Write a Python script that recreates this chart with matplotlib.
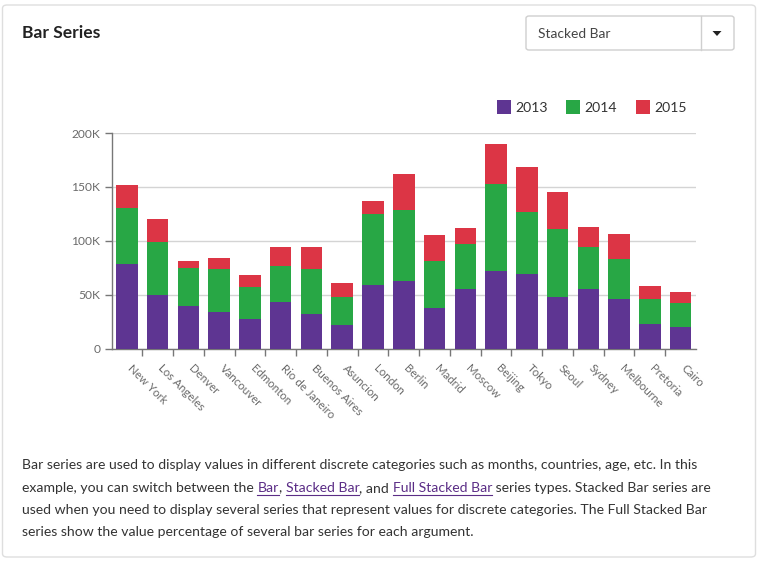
import matplotlib
matplotlib.use("Agg")
import matplotlib.pyplot as plt
from matplotlib.patches import FancyBboxPatch, Rectangle, Polygon
from matplotlib.lines import Line2D
from matplotlib.ticker import FuncFormatter, FixedLocator
from matplotlib.transforms import ScaledTranslation
import numpy as np

cities = ["New York", "Los Angeles", "Denver", "Vancouver", "Edmonton", "Rio de Janeiro",
          "Buenos Aires", "Asuncion", "London", "Berlin", "Madrid", "Moscow", "Beijing",
          "Tokyo", "Seoul", "Sydney", "Melbourne", "Pretoria", "Cairo"]
s2013 = [78, 50, 39, 34, 27, 43, 32, 22, 59, 63, 38, 55, 72, 69, 48, 55, 46, 23, 20]
s2014 = [52, 49, 36, 40, 30, 34, 42, 26, 66, 66, 43, 42, 81, 58, 63, 39, 37, 23, 22]
s2015 = [22, 21, 6, 10, 11, 17, 20, 13, 12, 33, 24, 15, 37, 41, 34, 19, 23, 12, 10]
years = ["2013", "2014", "2015"]
colors = ["#5e3592", "#28a745", "#dc3545"]
yticks = [0, 50, 100, 150, 200]

W, H = 760, 562
fig = plt.figure(figsize=(W / 100, H / 100), dpi=100)
FONT = ["Lato", "DejaVu Sans"]
plt.rcParams["font.family"] = FONT


def fx(x):
    return x / W


def fy(y):
    return 1 - y / H


def pt(px):
    return px * 72 / 100


# card
card = FancyBboxPatch((fx(2.5), fy(557)), fx(753), (555 - 3) / H,
                      boxstyle="round,pad=0,rounding_size=0.006",
                      transform=fig.transFigure, fc="white", ec="#dedede", lw=1, zorder=-10)
fig.add_artist(card)

fig.text(fx(22), fy(33), "Bar Series", fontsize=pt(17.5), fontweight="bold",
         color="#222222", ha="left", va="center")

# dropdown
fig.add_artist(FancyBboxPatch((fx(526), fy(50)), fx(208), 34 / H,
                              boxstyle="round,pad=0,rounding_size=0.004",
                              transform=fig.transFigure, fc="white", ec="#cfcfcf", lw=1))
fig.add_artist(Line2D([fx(701), fx(701)], [fy(16), fy(50)], transform=fig.transFigure,
                      color="#cfcfcf", lw=1))
fig.text(fx(538), fy(34), "Stacked Bar", fontsize=pt(13.8), color="#444444",
         ha="left", va="center")
fig.add_artist(Polygon([[fx(712.5), fy(31)], [fx(721.5), fy(31)], [fx(717), fy(36)]],
                       closed=True, transform=fig.transFigure, fc="#222222", ec="none"))

# chart
ax = fig.add_axes([fx(111.5), fy(348.5), fx(696) - fx(111.5), (348.5 - 133) / H])
ax.set_zorder(5)
ax.patch.set_alpha(0)
x = np.arange(len(cities))
b1 = np.array(s2013)
b2 = b1 + np.array(s2014)
ax.bar(x, s2013, width=0.7, color=colors[0], label=years[0], zorder=3)
ax.bar(x, s2014, width=0.7, bottom=b1, color=colors[1], label=years[1], zorder=3)
ax.bar(x, s2015, width=0.7, bottom=b2, color=colors[2], label=years[2], zorder=3)
ax.set_xlim(-0.5, len(cities) - 0.5)
ax.set_ylim(0, 200)
ax.set_yticks(yticks)
ax.yaxis.set_major_formatter(FuncFormatter(lambda v, p: "0" if v == 0 else f"{int(v)}K"))
ax.grid(axis="y", color="#d4d4d4", lw=1, zorder=0)
for s in ["top", "right"]:
    ax.spines[s].set_visible(False)
for s in ["left", "bottom"]:
    ax.spines[s].set_color("#777777")
    ax.spines[s].set_linewidth(1)
ax.tick_params(axis="y", length=5, width=1, color="#777777", labelcolor="#6a6a6a",
               labelsize=pt(12), pad=3)
ax.set_xticks(x)
ax.set_xticklabels(cities, rotation=-45, ha="left", va="top", rotation_mode="anchor",
                   fontsize=pt(11.5), color="#6a6a6a")
ax.tick_params(axis="x", which="major", length=0, pad=10)
offset = ScaledTranslation(6 / 100, 0, fig.dpi_scale_trans)
for lab in ax.get_xticklabels():
    lab.set_transform(lab.get_transform() + offset)
ax.xaxis.set_minor_locator(FixedLocator(list(np.arange(0.5, len(cities) - 0.5, 1.0))))
ax.tick_params(axis="x", which="minor", length=5, width=1, color="#777777")

# legend
lx = [497, 566, 636]
for i in range(3):
    fig.add_artist(Rectangle((fx(lx[i]), fy(114)), fx(14), 14 / H, transform=fig.transFigure,
                             fc=colors[i], ec="none"))
    fig.text(fx(lx[i] + 18), fy(107.5), years[i], fontsize=pt(14), color="#333333",
             ha="left", va="center")

# description text
renderer = fig.canvas.get_renderer()
link_color = "#5b2d86"
text_color = "#333333"
lines = [
    [("Bar series are used to display values in different discrete categories such as months, countries, age, etc. In this", False)],
    [("example, you can switch between the ", False), ("Bar", True), (", ", False),
     ("Stacked Bar", True), (", and ", False), ("Full Stacked Bar", True),
     (" series types. Stacked Bar series are", False)],
    [("used when you need to display several series that represent values for discrete categories. The Full Stacked Bar", False)],
    [("series show the value percentage of several bar series for each argument.", False)],
]
line_y = [469, 492, 514, 536]
for segs, yy in zip(lines, line_y):
    xx = 22.0
    for txt, link in segs:
        t = fig.text(fx(xx), fy(yy), txt, fontsize=pt(14.0), color=link_color if link else text_color,
                     ha="left", va="baseline")
        bb = t.get_window_extent(renderer=renderer)
        w = bb.width
        if link:
            fig.add_artist(Line2D([fx(xx), fx(xx + w)], [fy(yy + 2.5), fy(yy + 2.5)],
                                  transform=fig.transFigure, color=link_color, lw=0.8))
        xx += w

fig.savefig("out.png", dpi=100)
